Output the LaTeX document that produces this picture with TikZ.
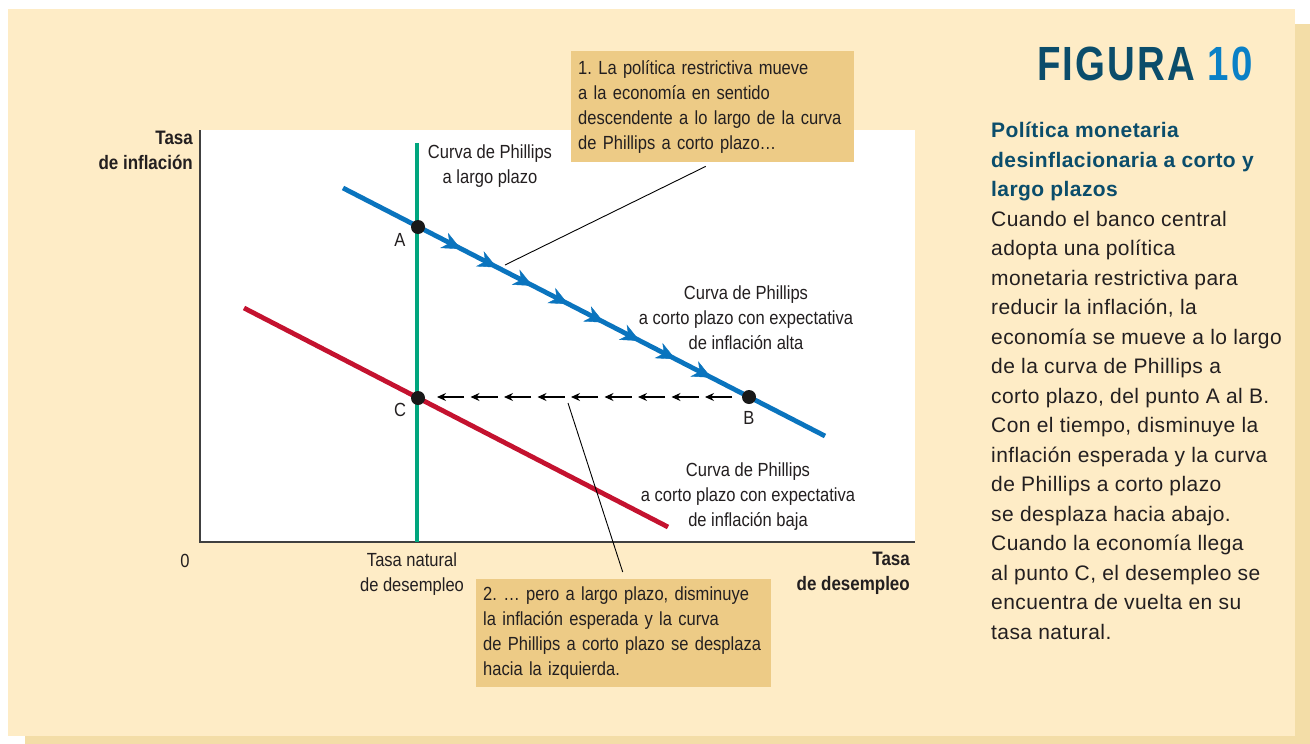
\documentclass[tikz,border=0pt]{standalone}
\usepackage{fontspec}
\setmainfont{Liberation Sans}
\newfontfamily\condfont[FakeStretch=0.87]{Liberation Sans}
\newfontfamily\sidefont[LetterSpace=2]{Liberation Sans}
\newfontfamily\figfont[FakeStretch=0.8,LetterSpace=4.5]{Liberation Sans}
\usetikzlibrary{calc,arrows.meta,decorations.markings}
\definecolor{panel}{HTML}{FEECC6}
\definecolor{panelshadow}{HTML}{F3DDA7}
\definecolor{notefill}{HTML}{EDCB86}
\definecolor{srblue}{HTML}{0A74BE}
\definecolor{lowred}{HTML}{C4122F}
\definecolor{lrgreen}{HTML}{00A67E}
\definecolor{figteal}{HTML}{0B4D6B}
\definecolor{figblue}{HTML}{0A80C6}
\definecolor{txt}{HTML}{231F20}
\frenchspacing
\tikzset{
  lbl/.style={text=txt, inner sep=0pt, font={\condfont\fontsize{19}{25}\selectfont}},
  axlbl/.style={lbl, font={\condfont\bfseries\fontsize{19.5}{25}\selectfont}},
  note/.style={fill=notefill, text=txt, align=left, anchor=north west, inner ysep=0pt,
    inner xsep=7pt, font={\condfont\fontsize{19}{25}\selectfont\hyphenpenalty=10000}},
  leader/.style={black, line width=0.9pt},
  dot/.style={fill=black!90},
  shiftarrow/.style={black, line width=1.1pt, -{Stealth[length=9pt,width=8pt,inset=3pt]}}
}
\begin{document}
\begin{tikzpicture}[x=1pt, y=-1pt]
\useasboundingbox (0,0) rectangle (1310,744);
% Panel
\fill[panelshadow] (25,24) rectangle (1310,744);
\fill[panel] (8,9) rectangle (1295,736);
\fill[white] (200,130) rectangle (915,542);
% Axes
\draw[black!75, line width=1.6pt] (200,130) -- (200,542) -- (915,542);
\node[axlbl, anchor=north east, align=right] (ylab) at (193,131) {Tasa\\de inflación};
\node[axlbl, anchor=north east, align=right] (xlab) at (910,552) {Tasa\\de desempleo};
\node[lbl] (orig) at (185,561) {0};
\node[lbl, anchor=north, align=center] (natrate) at (412,553) {Tasa natural\\de desempleo};
% Points
\coordinate (A) at (418,227);
\coordinate (B) at (749,397);
\coordinate (C) at (418,398);
\coordinate (hi0) at (343,188);
\coordinate (hi1) at (825,436);
\coordinate (lo0) at (244,308);
\coordinate (lo1) at (668,527);
% Long-run curve
\draw[lrgreen, line width=4.5pt] (417,143) -- (417,542);
\node[lbl, anchor=north, align=center] (lrlab) at (490,145) {Curva de Phillips\\a largo plazo};
% Short-run curves
\draw[lowred, line width=4.8pt] (lo0) -- (lo1);
\draw[srblue, line width=4.8pt] (hi0) -- (hi1);
\path[postaction={decorate}, decoration={markings,
  mark=between positions 0.13 and 0.89 step 0.108 with {\arrow[srblue]{Stealth[length=19pt,width=17pt,inset=6pt]}}}]
  (A) -- (B);
\node[lbl, anchor=north, align=center] (hilab) at (746,286) {Curva de Phillips\\a corto plazo con expectativa\\de inflación alta};
\node[lbl, anchor=north, align=center] (lolab) at (748,463) {Curva de Phillips\\a corto plazo con expectativa\\de inflación baja};
% Shift from B to C
\foreach \i in {0,...,8}
  \draw[shiftarrow] ($(B)+({-17-33.5*\i},0)$) -- ++(-27,0);
\fill[dot] (A) circle (7pt);
\fill[dot] (B) circle (7pt);
\fill[dot] (C) circle (7pt);
\node[lbl] (Alab) at (400,240) {A};
\node[lbl] (Blab) at (749,418) {B};
\node[lbl] (Clab) at (400,410) {C};
% Notes
\node[note, text width=269pt, minimum height=111pt] (note1) at (571,51)
  {1. La política restrictiva mueve\\a la economía en sentido\\descendente a lo largo de la curva\\de Phillips a corto plazo…};
\node[note, text width=281pt, minimum height=108pt] (note2) at (476,579)
  {2. … pero a largo plazo, disminuye\\la inflación esperada y la curva\\de Phillips a corto plazo se desplaza\\hacia la izquierda.};
\coordinate (tip1) at (505,265);
\coordinate (tip2) at (568,403);
\draw[leader] ($(note1.south)+(-7,4)$) -- (tip1);
\draw[leader] ($(note2.north)+(-1,-7)$) -- (tip2);
% Side text
\node[anchor=north, inner sep=0pt, font={\figfont\bfseries\fontsize{48}{48}\selectfont}] (fig) at (1145,47)
  {\textcolor{figteal}{FIGURA} \textcolor{figblue}{10}};
\node[anchor=north west, inner sep=0pt, align=left, text=txt, font={\sidefont\fontsize{21}{29.5}\selectfont}] (side) at (991,122)
  {\textcolor{figteal}{\bfseries Política monetaria}\\
   \textcolor{figteal}{\bfseries desinflacionaria a corto y}\\
   \textcolor{figteal}{\bfseries largo plazos}\\
   Cuando el banco central\\adopta una política\\monetaria restrictiva para\\reducir la inflación, la\\
   economía se mueve a lo largo\\de la curva de Phillips a\\corto plazo, del punto A al B.\\
   Con el tiempo, disminuye la\\inflación esperada y la curva\\de Phillips a corto plazo\\
   se desplaza hacia abajo.\\Cuando la economía llega\\al punto C, el desempleo se\\
   encuentra de vuelta en su\\tasa natural.};
\end{tikzpicture}
\end{document}
